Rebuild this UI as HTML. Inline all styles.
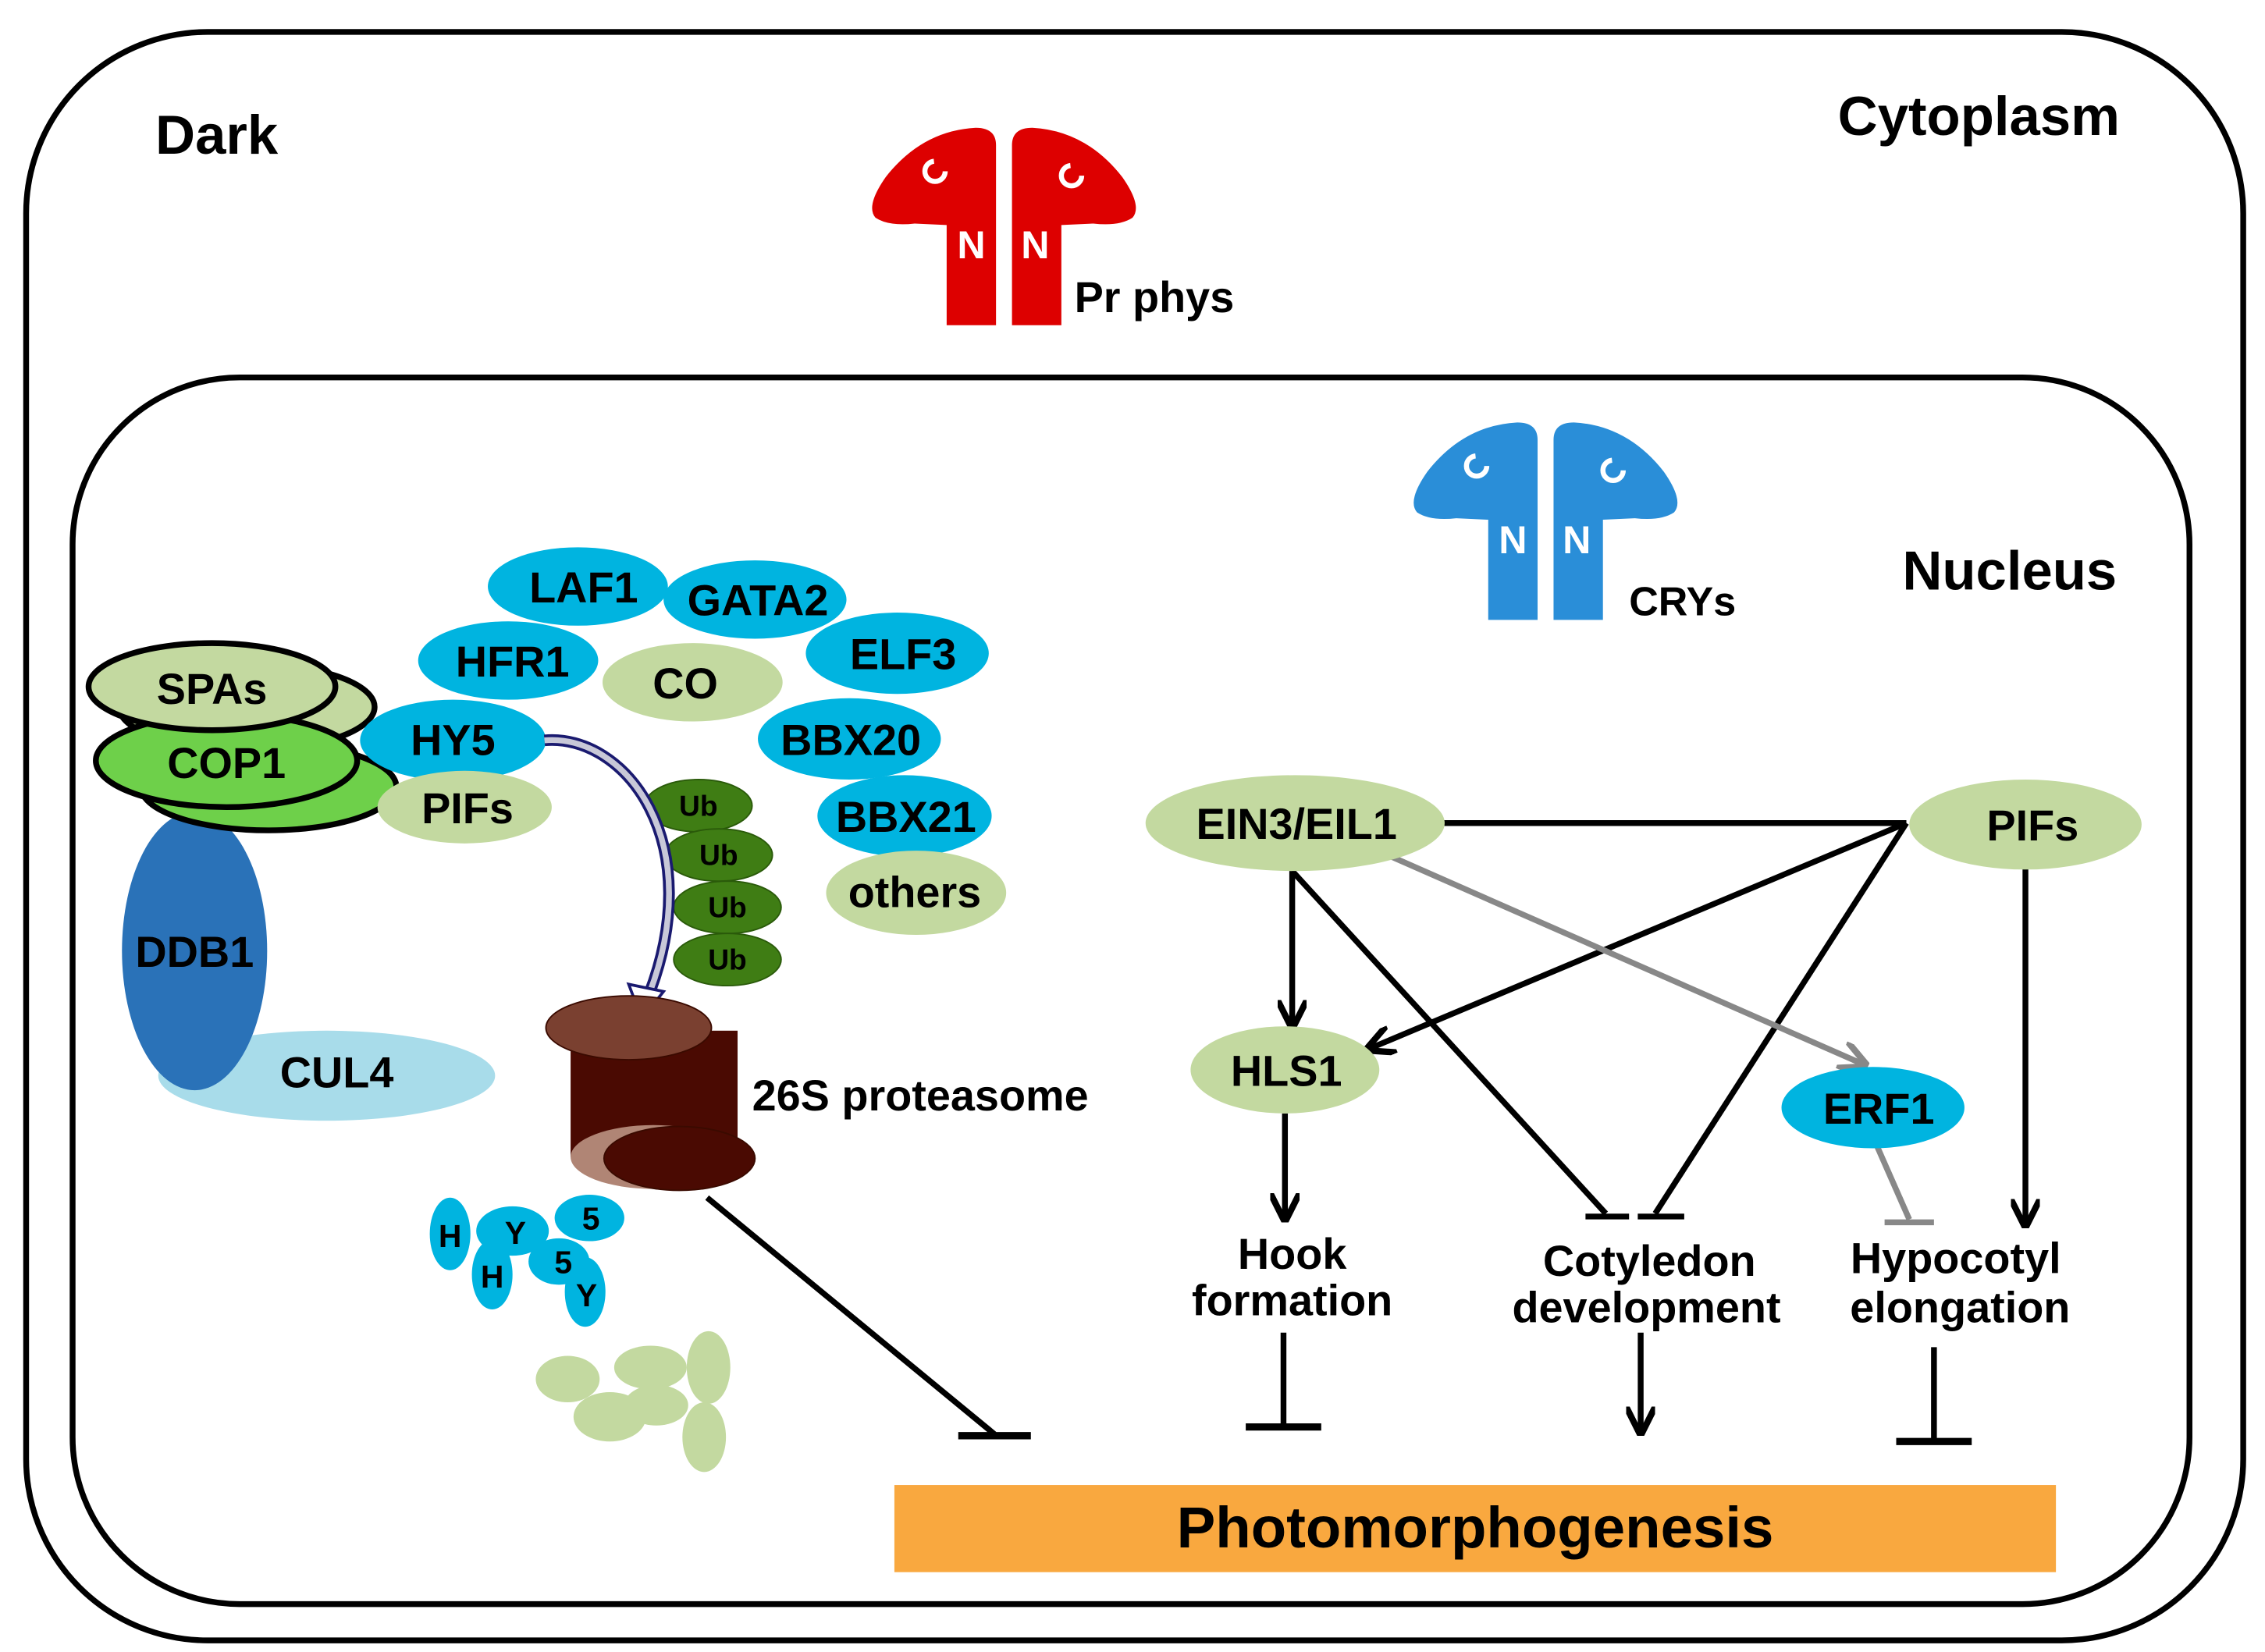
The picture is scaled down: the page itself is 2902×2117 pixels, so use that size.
<!DOCTYPE html>
<html><head><meta charset="utf-8"><style>html,body{margin:0;padding:0;background:#fff}svg{display:block}text{font-family:"Liberation Sans",Arial,sans-serif;font-weight:bold}</style></head>
<body>
<svg width="2902" height="2117" viewBox="0 0 1560 1138" xmlns="http://www.w3.org/2000/svg">
<defs>
<marker id="ah" viewBox="0 0 10 10" refX="8" refY="5" markerWidth="5" markerHeight="5" orient="auto"><path d="M0,0 L10,5 L0,10" fill="none" stroke="#000" stroke-width="2.2"/></marker>
<marker id="ahg" viewBox="0 0 10 10" refX="8" refY="5" markerWidth="5" markerHeight="5" orient="auto"><path d="M0,0 L10,5 L0,10" fill="none" stroke="#888" stroke-width="2.2"/></marker>
<g id="phy">
<path d="M686,224 L686,100 Q686,88 672,88 Q635,90 610,122 Q596,142 603,150 Q612,156 630,154 L652,155 L652,224 Z"/>
<path d="M697,224 L697,100 Q697,88 711,88 Q748,90 773,122 Q787,142 780,150 Q771,156 753,154 L731,155 L731,224 Z"/>
<circle cx="644" cy="118" r="7" fill="none" stroke="#fff" stroke-width="3.5" stroke-dasharray="32 12"/>
<circle cx="738" cy="121" r="7" fill="none" stroke="#fff" stroke-width="3.5" stroke-dasharray="32 12"/>
<text x="669" y="178" fill="#fff" font-size="27" text-anchor="middle">N</text>
<text x="713" y="178" fill="#fff" font-size="27" text-anchor="middle">N</text>
</g>
</defs>
<rect x="18" y="22" width="1527" height="1108" rx="125" fill="none" stroke="#000" stroke-width="4"/>
<rect x="50" y="260" width="1458" height="845" rx="115" fill="none" stroke="#000" stroke-width="4"/>
<text x="107" y="106" font-size="38">Dark</text>
<text x="1460" y="93" font-size="38" text-anchor="end">Cytoplasm</text>
<text x="1458" y="406" font-size="38" text-anchor="end">Nucleus</text>
<use href="#phy" fill="#dd0000"/>
<text x="740" y="215" font-size="30">Pr phys</text>
<use href="#phy" fill="#2a8ed8" transform="translate(373,203)"/>
<text x="1122" y="424" font-size="28">CRYs</text>

<!-- left complex -->
<ellipse cx="225" cy="741" rx="116" ry="31" fill="#a8dcea"/>
<ellipse cx="134" cy="655" rx="50" ry="96" fill="#2a72b8"/>
<text x="134" y="666" font-size="30" text-anchor="middle">DDB1</text>
<text x="232" y="749" font-size="30" text-anchor="middle">CUL4</text>
<ellipse cx="185" cy="542" rx="88" ry="30" fill="#6ed04a" stroke="#000" stroke-width="4"/>
<ellipse cx="170" cy="487" rx="88" ry="30" fill="#c3d9a0" stroke="#000" stroke-width="4"/>
<ellipse cx="156" cy="524" rx="90" ry="32" fill="#6ed04a" stroke="#000" stroke-width="4"/>
<text x="156" y="536" font-size="30" text-anchor="middle">COP1</text>
<ellipse cx="146" cy="473" rx="85" ry="30" fill="#c3d9a0" stroke="#000" stroke-width="4"/>
<text x="146" y="485" font-size="30" text-anchor="middle">SPAs</text>

<g font-size="30" text-anchor="middle">
<ellipse cx="398" cy="404" rx="62" ry="27" fill="#00b4e0"/><text x="402" y="415">LAF1</text>
<ellipse cx="520" cy="413" rx="63" ry="27" fill="#00b4e0"/><text x="522" y="424">GATA2</text>
<ellipse cx="350" cy="455" rx="62" ry="27" fill="#00b4e0"/><text x="353" y="466">HFR1</text>
<ellipse cx="477" cy="470" rx="62" ry="27" fill="#c3d9a0"/><text x="472" y="481">CO</text>
<ellipse cx="618" cy="450" rx="63" ry="28" fill="#00b4e0"/><text x="622" y="461">ELF3</text>
<ellipse cx="585" cy="509" rx="63" ry="28" fill="#00b4e0"/><text x="586" y="520">BBX20</text>
<ellipse cx="623" cy="562" rx="60" ry="28" fill="#00b4e0"/><text x="624" y="573">BBX21</text>
<ellipse cx="631" cy="615" rx="62" ry="29" fill="#c3d9a0"/><text x="630" y="625">others</text>
<ellipse cx="312" cy="510" rx="64" ry="28" fill="#00b4e0"/><text x="312" y="520">HY5</text>
<ellipse cx="320" cy="556" rx="60" ry="25" fill="#c3d9a0"/><text x="322" y="567">PIFs</text>
</g>
<g font-size="20" text-anchor="middle" fill="#000">
<ellipse cx="481" cy="555" rx="37" ry="18" fill="#3f7d14" stroke="#2a5a0a"/><text x="481" y="562">Ub</text>
<ellipse cx="495" cy="589" rx="37" ry="18" fill="#3f7d14" stroke="#2a5a0a"/><text x="495" y="596">Ub</text>
<ellipse cx="501" cy="625" rx="37" ry="18" fill="#3f7d14" stroke="#2a5a0a"/><text x="501" y="632">Ub</text>
<ellipse cx="501" cy="661" rx="37" ry="18" fill="#3f7d14" stroke="#2a5a0a"/><text x="501" y="668">Ub</text>
</g>
<!-- curved arrow -->
<path d="M375,510 C430,505 490,580 445,690" fill="none" stroke="#1a1a70" stroke-width="8"/>
<path d="M375,510 C430,505 490,580 445,690" fill="none" stroke="#c8c8d8" stroke-width="4"/>
<path d="M433,678 L442,702 L457,683 Z" fill="#fff" stroke="#1a1a70" stroke-width="2"/>
<!-- proteasome -->
<rect x="393" y="710" width="115" height="87" fill="#4a0a02"/>
<ellipse cx="450" cy="797" rx="57" ry="22" fill="#b08575"/>
<ellipse cx="433" cy="708" rx="57" ry="22" fill="#7a4030" stroke="#3a0a00"/>
<ellipse cx="468" cy="798" rx="52" ry="22" fill="#4a0a02" stroke="#3a0a00"/>
<text x="518" y="765" font-size="30">26S proteasome</text>
<!-- fragments -->
<g fill="#00b4e0" font-size="22" text-anchor="middle">
<ellipse cx="310" cy="850" rx="14" ry="25"/><ellipse cx="353" cy="848" rx="25" ry="17"/><ellipse cx="406" cy="839" rx="24" ry="16"/>
<ellipse cx="339" cy="878" rx="14" ry="24"/><ellipse cx="385" cy="869" rx="21" ry="16"/><ellipse cx="403" cy="890" rx="14" ry="24"/>
<g fill="#000"><text x="310" y="859">H</text><text x="355" y="857">Y</text><text x="407" y="847">5</text><text x="339" y="887">H</text><text x="388" y="877">5</text><text x="404" y="900">Y</text></g>
</g>
<g fill="#c3d9a0">
<ellipse cx="391" cy="950" rx="22" ry="16"/><ellipse cx="448" cy="942" rx="25" ry="15"/><ellipse cx="488" cy="942" rx="15" ry="25"/>
<ellipse cx="420" cy="976" rx="25" ry="17"/><ellipse cx="452" cy="968" rx="22" ry="14"/><ellipse cx="485" cy="990" rx="15" ry="24"/>
</g>
<line x1="487" y1="825" x2="685" y2="988" stroke="#000" stroke-width="4"/>
<line x1="660" y1="989" x2="710" y2="989" stroke="#000" stroke-width="5"/>

<!-- right network -->
<g stroke="#000" stroke-width="4" fill="none">
<line x1="990" y1="567" x2="1313" y2="567"/>
<line x1="1313" y1="567" x2="944" y2="722" marker-end="url(#ah)"/>
<line x1="1313" y1="567" x2="1140" y2="836"/>
<line x1="1128" y1="838" x2="1160" y2="838"/>
<line x1="890" y1="600" x2="890" y2="705" marker-end="url(#ah)"/>
<line x1="890" y1="600" x2="1106" y2="836"/>
<line x1="1092" y1="838" x2="1122" y2="838"/>
<line x1="1395" y1="598" x2="1395" y2="842" marker-end="url(#ah)"/>
<line x1="885" y1="767" x2="885" y2="838" marker-end="url(#ah)"/>
<line x1="884" y1="918" x2="884" y2="983"/>
<line x1="858" y1="983" x2="910" y2="983" stroke-width="5"/>
<line x1="1130" y1="918" x2="1130" y2="985" marker-end="url(#ah)"/>
<line x1="1332" y1="928" x2="1332" y2="992"/>
<line x1="1306" y1="993" x2="1358" y2="993" stroke-width="5"/>
</g>
<g stroke="#888" stroke-width="4" fill="none">
<line x1="958" y1="590" x2="1283" y2="733" marker-end="url(#ahg)"/>
<line x1="1293" y1="790" x2="1315" y2="840"/>
<line x1="1298" y1="842" x2="1332" y2="842"/>
</g>
<g font-size="30" text-anchor="middle">
<ellipse cx="892" cy="567" rx="103" ry="33" fill="#c3d9a0"/><text x="893" y="578">EIN3/EIL1</text>
<ellipse cx="1395" cy="568" rx="80" ry="31" fill="#c3d9a0"/><text x="1400" y="579">PIFs</text>
<ellipse cx="885" cy="737" rx="65" ry="30" fill="#c3d9a0"/><text x="886" y="748">HLS1</text>
<ellipse cx="1290" cy="763" rx="63" ry="28" fill="#00b4e0"/><text x="1294" y="774">ERF1</text>
<text x="890" y="874">Hook</text><text x="890" y="906">formation</text>
<text x="1136" y="879">Cotyledon</text><text x="1134" y="911">development</text>
<text x="1347" y="877">Hypocotyl</text><text x="1350" y="911">elongation</text>
</g>
<rect x="616" y="1023" width="800" height="60" fill="#f9a83f"/>
<text x="1016" y="1066" font-size="40" text-anchor="middle">Photomorphogenesis</text>
</svg>
</body></html>
